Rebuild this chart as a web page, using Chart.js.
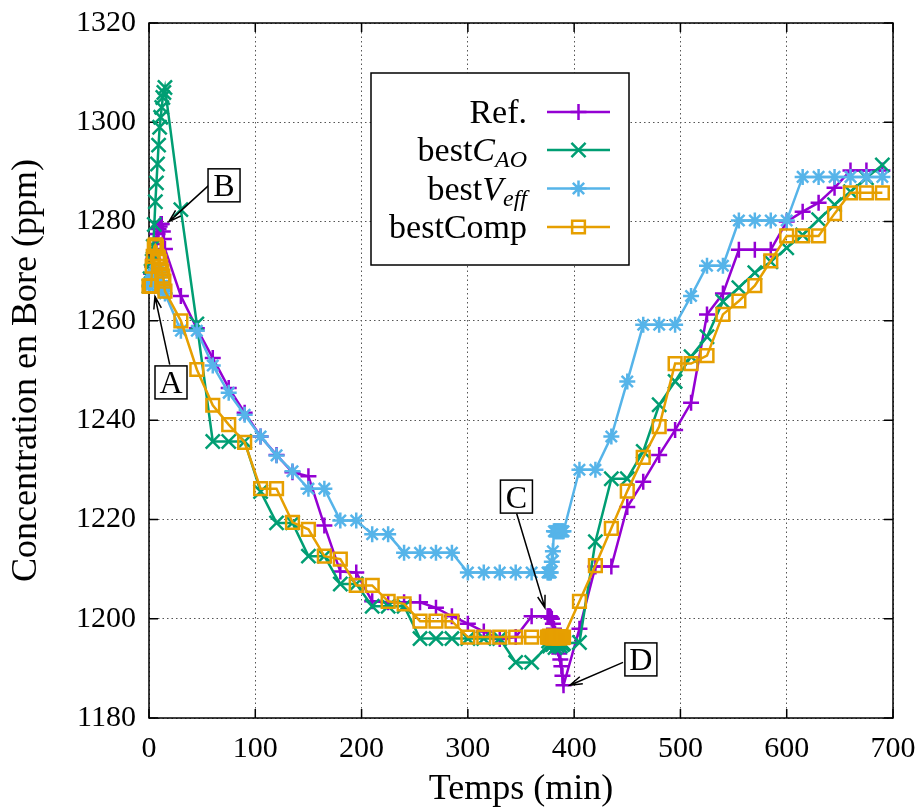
<!DOCTYPE html>
<html>
<head>
<meta charset="utf-8">
<script src="https://cdn.jsdelivr.net/npm/chart.js@4.4.1/dist/chart.umd.min.js"></script>
<style>
  html, body { margin: 0; padding: 0; background: #fff; }
</style>
</head>
<body>
<canvas id="boreChart" width="922" height="808"></canvas>
<script>
// Chart.js global defaults
Chart.defaults.font.family = "'Liberation Serif', 'Times New Roman', serif";
Chart.defaults.color = "#000";

// Time (min), shared by all series
const times = [
  0, 1, 2, 3, 4, 5, 6, 7, 8, 9, 10, 11, 12, 13, 14, 15,
  30, 45, 60, 75, 90, 105, 120, 135, 150, 165, 180, 195, 210, 225, 240, 255,
  270, 285, 300, 315, 330, 345, 360, 375,
  376, 377, 378, 379, 380, 381, 382, 383, 384, 385, 386, 387, 388, 389, 390,
  405, 420, 435, 450, 465, 480, 495, 510, 525, 540, 555, 570, 585, 600, 615,
  630, 645, 660, 675, 690,
];

// Boron concentration (ppm)
const refValues = [
  1267, 1268, 1269.5, 1271, 1272.5, 1274, 1275.5, 1276.5, 1277.5, 1278.5, 1279, 1279.5, 1279.5, 1278, 1276.5, 1274.5,
  1265, 1258.5, 1252.5, 1246.5, 1241.5, 1236.7, 1233, 1229.5, 1228.7, 1218.8, 1209.5, 1209.3, 1203.5, 1203.3, 1203.3, 1203.3,
  1202.2, 1200.5, 1199, 1197.4, 1195.9, 1196.3, 1200.5, 1200.5,
  1200.5, 1200.5, 1200.3, 1200, 1199, 1198, 1197, 1196, 1195, 1194, 1193, 1191.8, 1190.4, 1188.5, 1186.6,
  1198, 1210.5, 1210.5, 1222.5, 1227.6, 1233, 1238, 1243.5, 1261.3, 1265.5, 1274.3, 1274.3, 1274.3, 1280, 1282,
  1283.8, 1286.8, 1290.3, 1290.3, 1290.3,
];
const caoValues = [
  1267, 1268.5, 1270, 1272, 1275, 1279.4, 1284, 1287.8, 1291.6, 1295.4, 1299, 1301, 1303, 1305, 1306, 1307,
  1282.4, 1259.4, 1235.7, 1235.7, 1235.7, 1225.6, 1219.3, 1219.3, 1212.6, 1212.6, 1207, 1207, 1202.5, 1202.5, 1202.5, 1196,
  1196, 1196, 1196, 1196, 1196, 1191.2, 1191.2, 1194.5,
  1195.5, 1194.5, 1195, 1196, 1194.8, 1195.5, 1194.2, 1195.8, 1194.6, 1195.2, 1196, 1194.5, 1195.3, 1194.8, 1195,
  1195.2, 1215.5, 1228.2, 1228.2, 1233.7, 1243.1, 1247.8, 1252.8, 1256.8, 1263.9, 1266.7, 1269.7, 1271.9, 1274.7, 1277.3,
  1280.4, 1283.4, 1286, 1288.8, 1291.4,
];
const veffValues = [
  1267, 1267.5, 1268, 1268.5, 1269, 1269.5, 1270, 1270, 1270, 1269.5, 1269, 1268, 1267, 1266.5, 1266, 1265.5,
  1258, 1258, 1251, 1245.5, 1241.1, 1236.7, 1232.9, 1229.7, 1226.2, 1226.2, 1219.8, 1219.8, 1217, 1217, 1213.3, 1213.3,
  1213.3, 1213.3, 1209.3, 1209.3, 1209.3, 1209.3, 1209.3, 1209.3,
  1209.3, 1209.3, 1209.3, 1211.5, 1213.6, 1217.6, 1217.6, 1217.6, 1217.6, 1217.6, 1217.6, 1217.6, 1217.6, 1217.6, 1217.6,
  1230, 1230, 1236.7, 1247.8, 1259.2, 1259.2, 1259.2, 1265, 1271.1, 1271.1, 1280.2, 1280.2, 1280.2, 1280.2, 1289,
  1289, 1289, 1289, 1289, 1289,
];
const compValues = [
  1267, 1267, 1267, 1271, 1273, 1275, 1275.3, 1275, 1273, 1272.7, 1272, 1271, 1270, 1269, 1268, 1266,
  1260, 1250.2, 1243, 1239.1, 1235.5, 1226.2, 1226.2, 1219.4, 1218, 1212.6, 1212, 1206.7, 1206.7, 1203.5, 1203, 1199.5,
  1199.5, 1199.5, 1196.3, 1196.3, 1196.3, 1196.3, 1196.3, 1196.3,
  1196.3, 1196.5, 1196.2, 1196.4, 1196.1, 1196.5, 1196.3, 1196.2, 1196.4, 1196.3, 1196.1, 1196.4, 1196.3, 1196.2, 1196.3,
  1203.5, 1210.7, 1218.2, 1225.7, 1232.5, 1238.7, 1251.4, 1251.4, 1253, 1261.3, 1264, 1267.1, 1272.1, 1277.1, 1277.1,
  1277.1, 1281.6, 1285.8, 1285.8, 1285.8,
];

// Tick values
const xTickValues = [0, 100, 200, 300, 400, 500, 600, 700];
const yTickValues = [1180, 1200, 1220, 1240, 1260, 1280, 1300, 1320];

// Legend labels (rich text pieces)
const legendLabels = [
  [{ text: "Ref." }],
  [{ text: "best" }, { text: "C", italic: true }, { text: "AO", italic: true, sub: true }],
  [{ text: "best" }, { text: "V", italic: true }, { text: "eff", italic: true, sub: true }],
  [{ text: "bestComp" }],
];

// Boxed letters: box centre and arrow, in data units
const notes = [
  { label: "A", box: [20.7, 1247.6], from: [19.5, 1251.2], to: [5.6, 1264.9] },
  { label: "B", box: [70.6, 1287.3], from: [58.3, 1287.7], to: [18.8, 1280] },
  { label: "C", box: [345.7, 1224.6], from: [345.9, 1221.2], to: [372.5, 1202.2] },
  { label: "D", box: [462.8, 1191.8], from: [446, 1191.2], to: [396, 1186.6] },
];

const FONT = "'Liberation Serif', 'Times New Roman', serif";

const series = [
  { label: "Ref.", values: refValues, color: "#9400d3", marker: "cross", radius: 8, order: 4 },
  { label: "bestCAO", values: caoValues, color: "#009e73", marker: "crossRot", radius: 10, order: 3 },
  { label: "bestVeff", values: veffValues, color: "#56b4e9", marker: "star", radius: 8, order: 2 },
  { label: "bestComp", values: compValues, color: "#e69f00", marker: "rect", radius: 9, order: 1 },
];

function toPoints(values) {
  return times.map((t, i) => ({ x: t, y: values[i] }));
}

// Draw a marker like Chart.js does (used for the legend samples)
function drawMarker(ctx, style, x, y, r) {
  ctx.beginPath();
  if (style === "cross" || style === "star") {
    ctx.moveTo(x - r, y); ctx.lineTo(x + r, y);
    ctx.moveTo(x, y - r); ctx.lineTo(x, y + r);
  }
  if (style === "crossRot" || style === "star") {
    const d = r * Math.SQRT1_2;
    ctx.moveTo(x - d, y - d); ctx.lineTo(x + d, y + d);
    ctx.moveTo(x - d, y + d); ctx.lineTo(x + d, y - d);
  }
  if (style === "rect") {
    const s = r * Math.SQRT1_2;
    ctx.rect(x - s, y - s, 2 * s, 2 * s);
  }
  ctx.stroke();
}

// Frame + inward ticks on four sides (gnuplot look)
const framePlugin = {
  id: "frame",
  beforeDatasetsDraw(chart) {
    const { ctx, chartArea: a, scales } = chart;
    ctx.save();
    ctx.strokeStyle = "#000";
    ctx.lineWidth = 1.5;
    ctx.strokeRect(a.left, a.top, a.right - a.left, a.bottom - a.top);
    const len = 9;
    ctx.beginPath();
    xTickValues.forEach((v) => {
      const px = scales.x.getPixelForValue(v);
      ctx.moveTo(px, a.bottom); ctx.lineTo(px, a.bottom - len);
      ctx.moveTo(px, a.top); ctx.lineTo(px, a.top + len);
    });
    yTickValues.forEach((v) => {
      const py = scales.y.getPixelForValue(v);
      ctx.moveTo(a.left, py); ctx.lineTo(a.left + len, py);
      ctx.moveTo(a.right, py); ctx.lineTo(a.right - len, py);
    });
    ctx.stroke();
    ctx.restore();
  },
};

// Legend box in the upper middle of the plot
const legendPlugin = {
  id: "boxLegend",
  afterDatasetsDraw(chart) {
    const ctx = chart.ctx;
    const box = { left: 371, top: 73, right: 629, bottom: 265 };
    const rows = [112, 150, 188.5, 227];
    const textRight = 527;
    ctx.save();
    ctx.fillStyle = "#fff";
    ctx.fillRect(box.left, box.top, box.right - box.left, box.bottom - box.top);
    ctx.strokeStyle = "#000";
    ctx.lineWidth = 1.5;
    ctx.strokeRect(box.left, box.top, box.right - box.left, box.bottom - box.top);

    series.forEach((s, i) => {
      const y = rows[i];
      // label
      const parts = legendLabels[i].map((p) => ({
        ...p,
        font: (p.italic ? "italic " : "") + (p.sub ? "24px " : "34px ") + FONT,
      }));
      let total = 0;
      parts.forEach((p) => { ctx.font = p.font; p.w = ctx.measureText(p.text).width; total += p.w; });
      let x = textRight - total;
      ctx.fillStyle = "#000";
      ctx.textBaseline = "alphabetic";
      ctx.textAlign = "left";
      parts.forEach((p) => {
        ctx.font = p.font;
        ctx.fillText(p.text, x, y + 11 + (p.sub ? 6 : 0));
        x += p.w;
      });
      // sample line + marker
      ctx.strokeStyle = s.color;
      ctx.lineWidth = 2.5;
      ctx.beginPath();
      ctx.moveTo(547, y); ctx.lineTo(610, y);
      ctx.stroke();
      drawMarker(ctx, s.marker, 578.5, y, s.radius);
    });
    ctx.restore();
  },
};

// Boxed letters with arrows
const notesPlugin = {
  id: "notes",
  afterDatasetsDraw(chart) {
    const { ctx, scales } = chart;
    const px = (p) => [scales.x.getPixelForValue(p[0]), scales.y.getPixelForValue(p[1])];
    ctx.save();
    notes.forEach((n) => {
      const [x0, y0] = px(n.from);
      const [x1, y1] = px(n.to);
      ctx.strokeStyle = "#000";
      ctx.lineWidth = 1.5;
      ctx.beginPath();
      ctx.moveTo(x0, y0); ctx.lineTo(x1, y1);
      const ang = Math.atan2(y1 - y0, x1 - x0);
      const head = 13, spread = 0.3;
      ctx.moveTo(x1 - head * Math.cos(ang - spread), y1 - head * Math.sin(ang - spread));
      ctx.lineTo(x1, y1);
      ctx.lineTo(x1 - head * Math.cos(ang + spread), y1 - head * Math.sin(ang + spread));
      ctx.stroke();

      const [bx, by] = px(n.box);
      const w = 32, h = 33;
      ctx.fillStyle = "#fff";
      ctx.fillRect(bx - w / 2, by - h / 2, w, h);
      ctx.strokeRect(bx - w / 2, by - h / 2, w, h);
      ctx.fillStyle = "#000";
      ctx.font = "32px " + FONT;
      ctx.textAlign = "center";
      ctx.textBaseline = "alphabetic";
      ctx.fillText(n.label, bx, by + 11);
    });
    ctx.restore();
  },
};

new Chart(document.getElementById("boreChart").getContext("2d"), {
  type: "line",
  data: {
    datasets: series.map((s) => ({
      label: s.label,
      data: toPoints(s.values),
      borderColor: s.color,
      backgroundColor: "transparent",
      borderWidth: 2.5,
      pointStyle: s.marker,
      pointRadius: s.radius,
      pointHoverRadius: s.radius,
      pointBorderWidth: 2.5,
      pointBorderColor: s.color,
      pointBackgroundColor: "transparent",
      tension: 0,
      clip: false,
      order: s.order,
    })),
  },
  options: {
    responsive: false,
    animation: false,
    layout: { padding: { left: 0, right: 29, top: 23, bottom: 0 } },
    plugins: {
      legend: { display: false },
      tooltip: { enabled: false },
    },
    scales: {
      x: {
        type: "linear",
        min: 0,
        max: 700,
        afterBuildTicks: (scale) => { scale.ticks = xTickValues.map((v) => ({ value: v })); },
        afterFit: (scale) => {
          scale.height = 90;
          scale.paddingLeft = 0;
          scale.paddingRight = 0;
        },
        grid: { color: "#555", lineWidth: 1, drawTicks: false },
        border: { display: false, dash: [1.5, 3] },
        ticks: { padding: 13, font: { size: 30 }, color: "#000", maxRotation: 0, callback: (v) => String(v) },
        title: { display: true, text: "Temps (min)", font: { size: 36, lineHeight: 1 }, color: "#000", padding: { top: 0, bottom: 0 } },
      },
      y: {
        min: 1180,
        max: 1320,
        afterBuildTicks: (scale) => { scale.ticks = yTickValues.map((v) => ({ value: v })); },
        afterFit: (scale) => {
          scale.width = 149;
          scale.paddingTop = 0;
          scale.paddingBottom = 0;
        },
        grid: { color: "#555", lineWidth: 1, drawTicks: false },
        border: { display: false, dash: [1.5, 3] },
        ticks: { padding: 13, font: { size: 30 }, color: "#000", callback: (v) => String(v) },
        title: { display: true, text: "Concentration en Bore (ppm)", font: { size: 36, lineHeight: 1 }, color: "#000", padding: { top: 9, bottom: 0 } },
      },
    },
  },
  plugins: [framePlugin, legendPlugin, notesPlugin],
});
</script>
</body>
</html>
